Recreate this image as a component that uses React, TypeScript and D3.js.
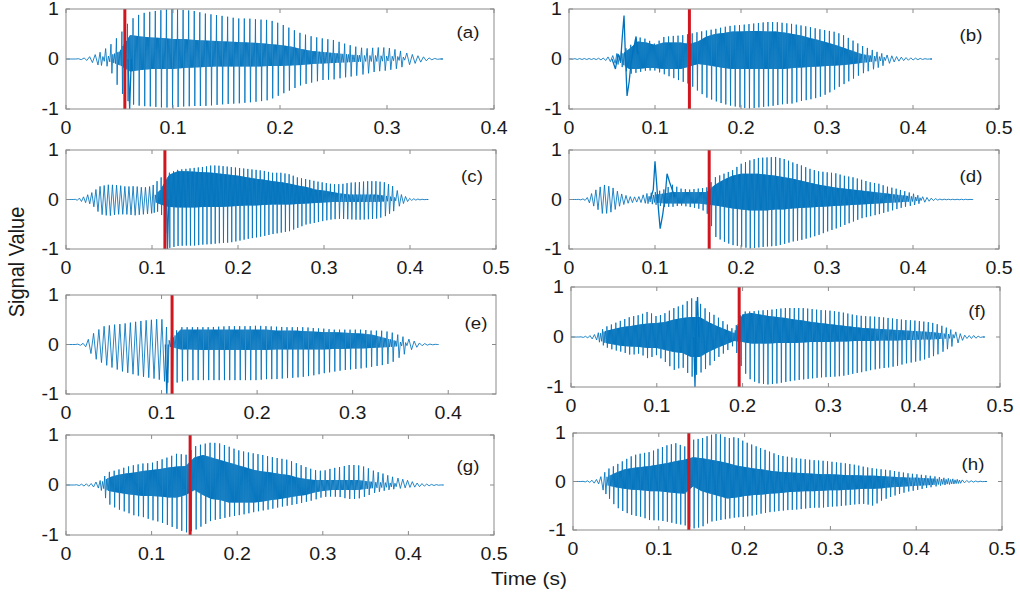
import React from "react";
import * as d3 from "d3";

// Envelope readings of each recording, sampled every 10 ms from t = 0.
// hi / lo: extreme excursions of the glottal pulses; coreHi / coreLo: the dense formant band.
const STEP = 0.01;

const aHi = [0, 0, 0.03, 0.11, 0.25, 0.48, 0.78, 0.91, 0.95, 0.98, 1.0, 0.98, 0.96, 0.91, 0.88, 0.85, 0.81, 0.81, 0.79, 0.78, 0.71, 0.61, 0.51, 0.45, 0.41, 0.38, 0.31, 0.25, 0.21, 0.23, 0.23, 0.18, 0.11, 0.06, 0.02, 0];
const aLo = [0, 0, -0.03, -0.12, -0.15, -0.62, -0.9, -0.94, -0.95, -0.97, -0.97, -0.95, -0.94, -0.94, -0.92, -0.9, -0.89, -0.87, -0.85, -0.82, -0.72, -0.62, -0.52, -0.47, -0.42, -0.41, -0.37, -0.34, -0.3, -0.25, -0.23, -0.19, -0.12, -0.07, -0.02, 0];
const aCoreHi = [0, 0, 0.01, 0.04, 0.06, 0.15, 0.48, 0.45, 0.43, 0.42, 0.4, 0.4, 0.38, 0.37, 0.36, 0.35, 0.34, 0.33, 0.32, 0.3, 0.28, 0.25, 0.2, 0.16, 0.14, 0.12, 0.1, 0.08, 0.07, 0.07, 0.06, 0.05, 0.03, 0.02, 0.01, 0];
const aCoreLo = [0, 0, -0.01, -0.04, -0.05, -0.12, -0.25, -0.22, -0.2, -0.2, -0.2, -0.18, -0.17, -0.16, -0.15, -0.15, -0.15, -0.15, -0.15, -0.14, -0.14, -0.13, -0.12, -0.1, -0.09, -0.08, -0.07, -0.06, -0.05, -0.05, -0.04, -0.03, -0.02, -0.01, 0, 0];
const aBurst: [number, number][] = [[0.058, 0], [0.0595, -1.0], [0.061, 0]];

const bHi = [0, 0.01, 0.01, 0.01, 0.02, 0.06, 0.15, 0.25, 0.44, 0.4, 0.3, 0.44, 0.46, 0.47, 0.5, 0.54, 0.57, 0.6, 0.64, 0.67, 0.68, 0.7, 0.72, 0.74, 0.74, 0.72, 0.7, 0.67, 0.64, 0.6, 0.57, 0.54, 0.47, 0.37, 0.27, 0.2, 0.13, 0.08, 0.05, 0.03, 0.02, 0.01, 0];
const bLo = [0, -0.01, -0.01, -0.01, -0.02, -0.06, -0.13, -0.3, -0.27, -0.23, -0.23, -0.3, -0.37, -0.44, -0.5, -0.64, -0.77, -0.84, -0.9, -0.94, -0.97, -0.99, -0.97, -0.95, -0.93, -0.9, -0.89, -0.84, -0.81, -0.77, -0.7, -0.6, -0.5, -0.4, -0.3, -0.23, -0.17, -0.1, -0.05, -0.03, -0.02, -0.01, 0];
const bCoreHi = [0, 0, 0, 0, 0.01, 0.03, 0.08, 0.2, 0.35, 0.33, 0.28, 0.33, 0.33, 0.33, 0.3, 0.35, 0.45, 0.5, 0.52, 0.55, 0.55, 0.56, 0.56, 0.55, 0.55, 0.53, 0.5, 0.47, 0.42, 0.38, 0.33, 0.28, 0.22, 0.16, 0.1, 0.07, 0.05, 0.03, 0.02, 0.01, 0.01, 0, 0];
const bCoreLo = [0, 0, 0, 0, -0.01, -0.03, -0.08, -0.2, -0.2, -0.18, -0.18, -0.2, -0.2, -0.2, -0.15, -0.1, -0.12, -0.15, -0.18, -0.2, -0.2, -0.2, -0.2, -0.2, -0.2, -0.2, -0.18, -0.17, -0.16, -0.15, -0.14, -0.13, -0.12, -0.1, -0.08, -0.06, -0.04, -0.03, -0.02, -0.01, -0.01, 0, 0];
const bBurst: [number, number][] = [[0.05, 0], [0.054, -0.2], [0.057, 0.1], [0.06, -0.05], [0.062, 0.45], [0.064, 0.87], [0.0655, 0.1], [0.0675, -0.74], [0.07, -0.45], [0.072, -0.1], [0.075, 0.2], [0.078, 0.45], [0.08, 0.1]];

const cHi = [0, 0, 0.05, 0.14, 0.27, 0.3, 0.29, 0.26, 0.27, 0.24, 0.27, 0.44, 0.54, 0.6, 0.62, 0.64, 0.66, 0.69, 0.68, 0.66, 0.64, 0.62, 0.6, 0.58, 0.54, 0.54, 0.51, 0.44, 0.41, 0.37, 0.34, 0.31, 0.31, 0.34, 0.35, 0.37, 0.37, 0.35, 0.27, 0.1, 0.02, 0.01, 0];
const cLo = [0, 0, -0.05, -0.1, -0.3, -0.33, -0.3, -0.3, -0.32, -0.3, -0.28, -0.23, -0.98, -0.94, -0.93, -0.93, -0.91, -0.9, -0.88, -0.87, -0.84, -0.8, -0.77, -0.74, -0.7, -0.67, -0.64, -0.57, -0.5, -0.47, -0.43, -0.4, -0.39, -0.4, -0.41, -0.4, -0.39, -0.35, -0.25, -0.1, -0.02, -0.01, 0];
const cCoreHi = [0, 0, 0.01, 0.02, 0.03, 0.03, 0.03, 0.03, 0.03, 0.03, 0.03, 0.2, 0.5, 0.57, 0.57, 0.56, 0.55, 0.54, 0.52, 0.5, 0.48, 0.45, 0.42, 0.4, 0.37, 0.35, 0.32, 0.28, 0.25, 0.2, 0.18, 0.15, 0.12, 0.1, 0.1, 0.1, 0.1, 0.08, 0.05, 0.02, 0.01, 0, 0];
const cCoreLo = [0, 0, -0.01, -0.02, -0.03, -0.03, -0.03, -0.03, -0.03, -0.03, -0.03, -0.1, -0.15, -0.16, -0.16, -0.16, -0.15, -0.15, -0.15, -0.14, -0.13, -0.12, -0.12, -0.11, -0.1, -0.1, -0.1, -0.09, -0.08, -0.07, -0.06, -0.05, -0.05, -0.05, -0.05, -0.05, -0.05, -0.04, -0.03, -0.02, -0.01, 0, 0];
const cBurst: [number, number][] = [[0.117, 0], [0.118, -1.0], [0.1195, 0]];

const dHi = [0, 0, 0.02, 0.18, 0.3, 0.25, 0.12, 0.06, 0.05, 0.12, 0.15, 0.2, 0.3, 0.22, 0.2, 0.22, 0.24, 0.45, 0.52, 0.59, 0.72, 0.79, 0.84, 0.85, 0.86, 0.82, 0.75, 0.69, 0.62, 0.57, 0.55, 0.53, 0.48, 0.45, 0.4, 0.35, 0.32, 0.26, 0.22, 0.17, 0.12, 0.06, 0.03, 0.01, 0.005, 0.005, 0.005, 0];
const dLo = [0, 0, -0.02, -0.15, -0.3, -0.25, -0.12, -0.07, -0.05, -0.08, -0.1, -0.15, -0.15, -0.12, -0.15, -0.18, -0.25, -0.75, -0.85, -0.92, -0.95, -0.99, -0.97, -0.95, -0.94, -0.9, -0.85, -0.82, -0.77, -0.72, -0.65, -0.59, -0.52, -0.45, -0.38, -0.34, -0.3, -0.25, -0.2, -0.15, -0.12, -0.07, -0.03, -0.01, -0.005, -0.005, -0.005, 0];
const dCoreHi = [0, 0, 0, 0.02, 0.03, 0.03, 0.02, 0.01, 0.02, 0.05, 0.1, 0.12, 0.15, 0.15, 0.15, 0.15, 0.15, 0.3, 0.4, 0.48, 0.52, 0.52, 0.52, 0.5, 0.48, 0.45, 0.42, 0.38, 0.34, 0.3, 0.27, 0.24, 0.22, 0.2, 0.18, 0.16, 0.14, 0.12, 0.1, 0.08, 0.06, 0.03, 0.01, 0, 0, 0, 0, 0];
const dCoreLo = [0, 0, 0, -0.02, -0.03, -0.03, -0.02, -0.01, -0.02, -0.04, -0.06, -0.08, -0.08, -0.08, -0.08, -0.08, -0.1, -0.12, -0.15, -0.18, -0.2, -0.22, -0.22, -0.22, -0.2, -0.2, -0.18, -0.17, -0.16, -0.15, -0.14, -0.13, -0.12, -0.11, -0.1, -0.09, -0.08, -0.07, -0.06, -0.05, -0.04, -0.02, -0.01, 0, 0, 0, 0, 0];
const dBurst: [number, number][] = [[0.095, 0.02], [0.098, 0.2], [0.1, 0.77], [0.102, 0.3], [0.104, -0.2], [0.106, -0.59], [0.109, -0.3], [0.112, 0.1], [0.114, 0.52], [0.117, 0.35], [0.12, 0.2], [0.123, 0.05]];

const eHi = [0, 0, 0.03, 0.25, 0.37, 0.4, 0.42, 0.45, 0.48, 0.5, 0.52, 0.2, 0.35, 0.35, 0.35, 0.35, 0.36, 0.37, 0.37, 0.37, 0.38, 0.37, 0.36, 0.35, 0.35, 0.35, 0.33, 0.32, 0.3, 0.3, 0.3, 0.3, 0.28, 0.28, 0.25, 0.18, 0.1, 0.03, 0.01, 0];
const eLo = [0, 0, -0.03, -0.28, -0.4, -0.48, -0.55, -0.6, -0.65, -0.68, -0.72, -0.8, -0.75, -0.72, -0.72, -0.72, -0.72, -0.72, -0.72, -0.72, -0.72, -0.7, -0.7, -0.68, -0.67, -0.65, -0.62, -0.58, -0.55, -0.52, -0.5, -0.48, -0.45, -0.42, -0.38, -0.25, -0.12, -0.03, -0.01, 0];
const eCoreHi = [0, 0, 0, 0.02, 0.03, 0.03, 0.03, 0.03, 0.03, 0.03, 0.03, 0.1, 0.3, 0.3, 0.3, 0.3, 0.3, 0.3, 0.3, 0.3, 0.3, 0.3, 0.28, 0.28, 0.28, 0.27, 0.26, 0.25, 0.25, 0.24, 0.23, 0.22, 0.2, 0.15, 0.1, 0.05, 0.03, 0.01, 0, 0];
const eCoreLo = [0, 0, 0, -0.02, -0.03, -0.03, -0.03, -0.03, -0.03, -0.03, -0.03, -0.05, -0.1, -0.1, -0.11, -0.11, -0.11, -0.11, -0.11, -0.11, -0.11, -0.11, -0.1, -0.1, -0.1, -0.1, -0.1, -0.1, -0.09, -0.09, -0.08, -0.08, -0.07, -0.06, -0.05, -0.03, -0.02, -0.01, 0, 0];
const eBurst: [number, number][] = [[0.104, 0], [0.1055, -1.0], [0.107, 0]];

const fHi = [0, 0, 0.02, 0.06, 0.2, 0.27, 0.34, 0.41, 0.44, 0.51, 0.41, 0.48, 0.58, 0.64, 0.78, 0.68, 0.51, 0.41, 0.28, 0.14, 0.51, 0.51, 0.53, 0.54, 0.56, 0.58, 0.58, 0.58, 0.56, 0.54, 0.53, 0.51, 0.48, 0.44, 0.42, 0.41, 0.4, 0.38, 0.36, 0.34, 0.33, 0.31, 0.29, 0.24, 0.17, 0.09, 0.03, 0.03, 0];
const fLo = [0, 0, -0.02, -0.06, -0.2, -0.26, -0.3, -0.36, -0.33, -0.43, -0.36, -0.5, -0.66, -0.6, -0.8, -0.73, -0.6, -0.43, -0.3, -0.16, -0.66, -0.87, -0.93, -0.95, -0.93, -0.9, -0.87, -0.85, -0.83, -0.81, -0.8, -0.79, -0.77, -0.73, -0.7, -0.66, -0.63, -0.61, -0.58, -0.53, -0.5, -0.46, -0.4, -0.33, -0.23, -0.13, -0.03, -0.03, 0];
const fCoreHi = [0, 0, 0.01, 0.04, 0.12, 0.16, 0.2, 0.22, 0.25, 0.27, 0.28, 0.3, 0.35, 0.38, 0.4, 0.4, 0.3, 0.22, 0.15, 0.08, 0.45, 0.48, 0.45, 0.42, 0.4, 0.38, 0.35, 0.33, 0.3, 0.28, 0.26, 0.24, 0.22, 0.2, 0.18, 0.17, 0.16, 0.15, 0.14, 0.13, 0.12, 0.11, 0.1, 0.08, 0.06, 0.04, 0.02, 0.02, 0];
const fCoreLo = [0, 0, -0.01, -0.04, -0.12, -0.15, -0.18, -0.19, -0.2, -0.22, -0.22, -0.26, -0.3, -0.32, -0.4, -0.4, -0.3, -0.22, -0.15, -0.08, -0.1, -0.13, -0.13, -0.13, -0.12, -0.12, -0.12, -0.11, -0.1, -0.1, -0.1, -0.09, -0.09, -0.08, -0.08, -0.08, -0.07, -0.07, -0.07, -0.06, -0.06, -0.05, -0.05, -0.04, -0.03, -0.02, -0.01, -0.01, 0];
const fBurst: [number, number][] = [[0.143, 0], [0.1445, -1.0], [0.146, 0.2], [0.1475, 0.8], [0.149, 0]];

const gHi = [0, 0, 0.02, 0.03, 0.09, 0.26, 0.3, 0.36, 0.4, 0.43, 0.44, 0.5, 0.56, 0.63, 0.6, 0.77, 0.82, 0.85, 0.83, 0.77, 0.7, 0.66, 0.63, 0.6, 0.56, 0.53, 0.5, 0.43, 0.36, 0.3, 0.28, 0.33, 0.36, 0.4, 0.4, 0.36, 0.28, 0.23, 0.17, 0.13, 0.09, 0.04, 0.02, 0.01, 0];
const gLo = [0, 0, -0.02, -0.03, -0.07, -0.38, -0.48, -0.54, -0.61, -0.64, -0.7, -0.74, -0.81, -0.88, -0.95, -0.91, -0.81, -0.71, -0.68, -0.64, -0.61, -0.58, -0.54, -0.51, -0.48, -0.44, -0.41, -0.38, -0.34, -0.3, -0.24, -0.23, -0.24, -0.28, -0.28, -0.23, -0.16, -0.12, -0.09, -0.07, -0.05, -0.04, -0.02, -0.01, 0];
const gCoreHi = [0, 0, 0.01, 0.02, 0.04, 0.15, 0.2, 0.23, 0.25, 0.28, 0.3, 0.32, 0.35, 0.37, 0.38, 0.55, 0.6, 0.55, 0.5, 0.45, 0.4, 0.35, 0.3, 0.27, 0.25, 0.22, 0.2, 0.15, 0.12, 0.1, 0.1, 0.1, 0.1, 0.1, 0.1, 0.08, 0.06, 0.05, 0.04, 0.03, 0.02, 0.01, 0.01, 0, 0];
const gCoreLo = [0, 0, -0.01, -0.02, -0.04, -0.12, -0.15, -0.18, -0.2, -0.22, -0.22, -0.23, -0.25, -0.25, -0.2, -0.1, -0.2, -0.28, -0.3, -0.35, -0.35, -0.35, -0.35, -0.33, -0.3, -0.28, -0.25, -0.22, -0.2, -0.15, -0.12, -0.1, -0.1, -0.1, -0.1, -0.08, -0.06, -0.05, -0.04, -0.03, -0.02, -0.01, -0.01, 0, 0];
const gBurst: [number, number][] = [];

const hHi = [0, 0, 0.02, 0.05, 0.25, 0.34, 0.44, 0.54, 0.58, 0.61, 0.68, 0.75, 0.79, 0.72, 0.86, 0.89, 0.96, 0.99, 0.89, 0.92, 0.82, 0.75, 0.68, 0.61, 0.54, 0.51, 0.48, 0.46, 0.44, 0.43, 0.41, 0.39, 0.37, 0.34, 0.3, 0.27, 0.25, 0.23, 0.2, 0.17, 0.15, 0.13, 0.11, 0.08, 0.06, 0.04, 0.02, 0.01, 0];
const hLo = [0, 0, -0.02, -0.05, -0.3, -0.52, -0.63, -0.7, -0.73, -0.8, -0.8, -0.83, -0.87, -0.9, -0.97, -0.94, -0.83, -0.8, -0.77, -0.74, -0.73, -0.7, -0.66, -0.63, -0.61, -0.59, -0.58, -0.56, -0.54, -0.54, -0.52, -0.51, -0.49, -0.47, -0.46, -0.5, -0.39, -0.32, -0.26, -0.21, -0.18, -0.14, -0.11, -0.08, -0.06, -0.04, -0.02, -0.01, 0];
const hCoreHi = [0, 0, 0.01, 0.02, 0.1, 0.18, 0.25, 0.28, 0.3, 0.32, 0.35, 0.38, 0.42, 0.45, 0.5, 0.48, 0.45, 0.42, 0.38, 0.33, 0.3, 0.27, 0.25, 0.22, 0.2, 0.19, 0.18, 0.17, 0.16, 0.15, 0.15, 0.14, 0.13, 0.13, 0.12, 0.12, 0.11, 0.1, 0.09, 0.08, 0.08, 0.07, 0.06, 0.05, 0.04, 0.03, 0.02, 0.01, 0];
const hCoreLo = [0, 0, -0.01, -0.02, -0.08, -0.12, -0.15, -0.17, -0.18, -0.2, -0.2, -0.22, -0.24, -0.25, -0.1, -0.2, -0.25, -0.3, -0.35, -0.33, -0.3, -0.28, -0.27, -0.25, -0.24, -0.22, -0.21, -0.2, -0.2, -0.19, -0.18, -0.18, -0.17, -0.16, -0.15, -0.15, -0.14, -0.12, -0.11, -0.1, -0.09, -0.08, -0.07, -0.06, -0.05, -0.04, -0.02, -0.01, 0];
const hBurst: [number, number][] = [];

// Pitch period (s) and boundary marker (s) of each recording
const periods = [0.0052, 0.0055, 0.0048, 0.005, 0.0055, 0.0052, 0.0056, 0.0052];
const markers = [0.055, 0.14, 0.115, 0.163, 0.111, 0.196, 0.145, 0.135];
const tags = ["(a)", "(b)", "(c)", "(d)", "(e)", "(f)", "(g)", "(h)"];
const xMaxes = [0.4, 0.5, 0.5, 0.5, 0.45, 0.5, 0.5, 0.5];
const xTickValues = [0, 0.1, 0.2, 0.3, 0.4, 0.5];
const yTickValues = [-1, 0, 1];

const series = [
  { hi: aHi, lo: aLo, coreHi: aCoreHi, coreLo: aCoreLo, burst: aBurst },
  { hi: bHi, lo: bLo, coreHi: bCoreHi, coreLo: bCoreLo, burst: bBurst },
  { hi: cHi, lo: cLo, coreHi: cCoreHi, coreLo: cCoreLo, burst: cBurst },
  { hi: dHi, lo: dLo, coreHi: dCoreHi, coreLo: dCoreLo, burst: dBurst },
  { hi: eHi, lo: eLo, coreHi: eCoreHi, coreLo: eCoreLo, burst: eBurst },
  { hi: fHi, lo: fLo, coreHi: fCoreHi, coreLo: fCoreLo, burst: fBurst },
  { hi: gHi, lo: gLo, coreHi: gCoreHi, coreLo: gCoreLo, burst: gBurst },
  { hi: hHi, lo: hLo, coreHi: hCoreHi, coreLo: hCoreLo, burst: hBurst },
];

// Plot boxes: [left, right, top, bottom] in page pixels, and tag centres
const boxes = [
  [66, 494, 9, 109],
  [569, 999, 9, 109],
  [66, 496, 150, 249],
  [569, 999, 150, 249],
  [66, 496, 295, 394],
  [571, 1000, 287, 387],
  [66, 494, 435, 535],
  [573, 1002, 433, 530],
];
const tagPos = [
  [468, 32],
  [971, 35],
  [472, 176],
  [971, 176],
  [476, 323],
  [977, 311],
  [468, 466],
  [973, 464],
];

const BLUE = "#0072BD";
const RED = "#D0161E";
const AXIS = "#8a8a8a";
const TEXT = "#1a1a1a";
const FONT = "'Liberation Sans', Arial, Helvetica, sans-serif";

function envAt(arr: number[], t: number): number {
  const pos = t / STEP;
  const i = Math.max(0, Math.min(arr.length - 1, Math.floor(pos)));
  const j = Math.min(arr.length - 1, i + 1);
  const f = Math.max(0, Math.min(1, pos - i));
  return arr[i] * (1 - f) + arr[j] * f;
}

// One glottal pulse per period: a swing to the hi and lo envelopes, followed by
// formant ringing inside the core band (more ringing where the band is wider).
function pulseTrain(s: (typeof series)[number], period: number): [number, number][] {
  const end = (s.hi.length - 1) * STEP;
  const pts: [number, number][] = [[0, 0]];
  for (let c = 0; c * period < end; c++) {
    const t0 = c * period;
    const band = envAt(s.coreHi, t0) - envAt(s.coreLo, t0);
    const rings = Math.max(0, Math.min(4, Math.round((band - 0.04) / 0.06)));
    const n = 2 + rings * 2;
    for (let i = 0; i < n; i++) {
      const t = t0 + ((i + 0.5) / n) * period;
      let v: number;
      if (i === 0) v = envAt(s.hi, t);
      else if (i === 1) v = envAt(s.lo, t);
      else v = i % 2 === 0 ? envAt(s.coreHi, t) : envAt(s.coreLo, t);
      pts.push([t, v]);
    }
  }
  pts.push([end, 0]);
  return pts;
}

function fmt(v: number): string {
  return v === 0 ? "0" : String(Math.round(v * 10) / 10);
}

function Panel({ idx }: { idx: number }) {
  const [left, right, top, bottom] = boxes[idx];
  const xMax = xMaxes[idx];
  const x = d3.scaleLinear().domain([0, xMax]).range([left, right]);
  const y = d3.scaleLinear().domain([-1, 1]).range([bottom, top]);
  const line = d3
    .line<[number, number]>()
    .x((d) => x(d[0]))
    .y((d) => y(d[1]));
  const s = series[idx];
  const wave = line(pulseTrain(s, periods[idx])) || "";
  const burst = s.burst.length ? line(s.burst) || "" : "";
  const xt = xTickValues.filter((v) => v <= xMax + 1e-9);
  const clipId = `clip-${idx}`;
  const tickLen = 4;
  return (
    <g>
      <defs>
        <clipPath id={clipId}>
          <rect x={left} y={top} width={right - left} height={bottom - top} />
        </clipPath>
      </defs>
      <rect x={left} y={top} width={right - left} height={bottom - top} fill="#fff" />
      <g clipPath={`url(#${clipId})`}>
        <path d={wave} fill="none" stroke={BLUE} strokeWidth={0.85} strokeLinejoin="round" />
        {burst && <path d={burst} fill="none" stroke={BLUE} strokeWidth={1.3} />}
        <line
          x1={x(markers[idx])}
          x2={x(markers[idx])}
          y1={top}
          y2={bottom}
          stroke={RED}
          strokeWidth={3}
        />
      </g>
      <rect
        x={left}
        y={top}
        width={right - left}
        height={bottom - top}
        fill="none"
        stroke={AXIS}
        strokeWidth={1}
      />
      {xt.map((v) => (
        <g key={`xt${v}`}>
          <line x1={x(v)} x2={x(v)} y1={bottom} y2={bottom - tickLen} stroke={AXIS} />
          <line x1={x(v)} x2={x(v)} y1={top} y2={top + tickLen} stroke={AXIS} />
          <text
            transform={`translate(${x(v)},${bottom + 25}) scale(1.12,1)`}
            textAnchor="middle"
            fontFamily={FONT}
            fontSize={17.5}
            fill={TEXT}
          >
            {fmt(v)}
          </text>
        </g>
      ))}
      {yTickValues.map((v) => (
        <g key={`yt${v}`}>
          <line x1={left} x2={left + tickLen} y1={y(v)} y2={y(v)} stroke={AXIS} />
          <line x1={right} x2={right - tickLen} y1={y(v)} y2={y(v)} stroke={AXIS} />
          <text
            transform={`translate(${left - 7},${y(v) + 6}) scale(1.12,1)`}
            textAnchor="end"
            fontFamily={FONT}
            fontSize={17.5}
            fill={TEXT}
          >
            {v === -1 ? "-1" : String(v)}
          </text>
        </g>
      ))}
      <text
        transform={`translate(${tagPos[idx][0]},${tagPos[idx][1] + 6}) scale(1.1,1)`}
        textAnchor="middle"
        fontFamily={FONT}
        fontSize={17}
        fill={TEXT}
      >
        {tags[idx]}
      </text>
    </g>
  );
}

export default function App() {
  return (
    <svg
      width={1020}
      height={596}
      viewBox="0 0 1020 596"
      style={{ position: "absolute", left: 0, top: 0, background: "#fff" }}
    >
      <rect x={0} y={0} width={1020} height={596} fill="#fff" />
      {series.map((_, i) => (
        <Panel key={i} idx={i} />
      ))}
      <text
        transform="translate(24,262) rotate(-90) scale(1.05,1.12)"
        textAnchor="middle"
        fontFamily={FONT}
        fontSize={19}
        fill={TEXT}
      >
        Signal Value
      </text>
      <text
        transform="translate(529,585) scale(1.1,1)"
        textAnchor="middle"
        fontFamily={FONT}
        fontSize={19}
        fill={TEXT}
      >
        Time (s)
      </text>
    </svg>
  );
}
